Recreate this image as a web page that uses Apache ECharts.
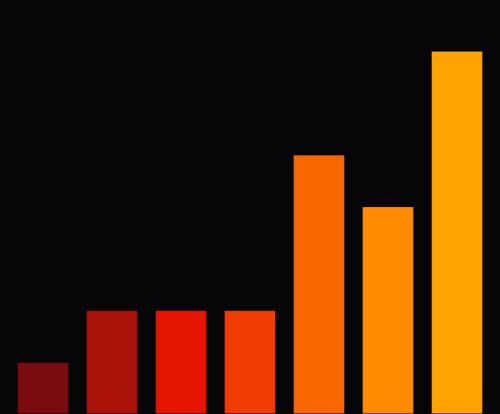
<!DOCTYPE html>
<html><head><meta charset="utf-8">
<script src="https://cdn.jsdelivr.net/npm/echarts@6/dist/echarts.min.js"></script>
<style>html,body{margin:0;padding:0;background:#060609;}#c{width:500px;height:414px;}</style>
</head><body><div id="c"></div>
<script>
const categories = ['A','B','C','D','E','F','G'];
const values = [1, 2, 2, 2, 5, 4, 7];
const colors = ['#7A0C10','#AA1108','#E31400','#F03C00','#F86600','#FF8C00','#FFA300'];
const chart = echarts.init(document.getElementById('c'));
chart.setOption({
  backgroundColor: '#060609',
  animation: false,
  grid: {left: 8.5, right: 8.5, top: 51, bottom: 0},
  xAxis: {type: 'category', data: categories, show: false},
  yAxis: {type: 'value', min: 0, max: 7, show: false},
  series: [{
    type: 'bar',
    barCategoryGap: '25%',
    data: values.map((v, i) => ({value: v, itemStyle: {color: colors[i], borderColor: 'rgba(0,0,0,0.15)', borderWidth: 1}}))
  }]
});
</script></body></html>
